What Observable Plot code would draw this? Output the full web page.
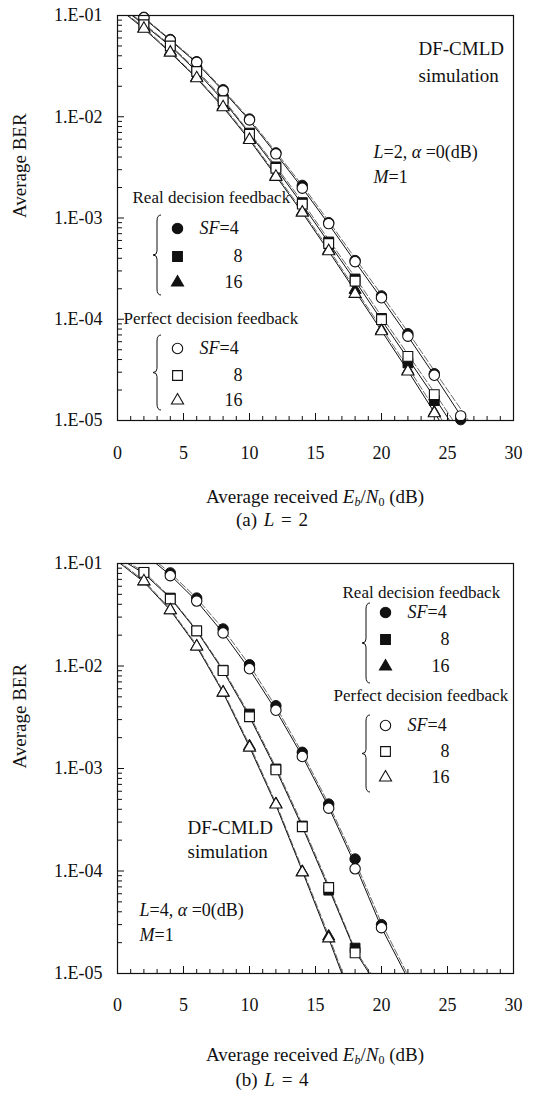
<!DOCTYPE html>
<html><head><meta charset="utf-8">
<script src="https://cdn.jsdelivr.net/npm/d3@7"></script>
<script src="https://cdn.jsdelivr.net/npm/@observablehq/plot@0.6"></script>
<style>
body{margin:0;background:#fff;width:533px;height:1093px;position:relative;overflow:hidden;font-family:"Liberation Serif","Times New Roman",serif;color:#111}
.blk{position:absolute;left:0}
.t{position:absolute;white-space:nowrap;transform:translateX(-50%);font-size:19px;line-height:22px}
sub{font-size:12px;vertical-align:-3px;line-height:0}
</style></head><body>
<div id="top" class="blk" style="top:0"></div>
<div class="t" style="left:315px;top:486px">Average received <i>E</i><sub><i>b</i></sub>/<i>N</i><sub>0</sub> (dB)</div>
<div class="t" style="left:272px;top:509px;word-spacing:2px">(a) <i>L</i> = 2</div>
<div id="bot" class="blk" style="top:548px"></div>
<div class="t" style="left:315px;top:1044px">Average received <i>E</i><sub><i>b</i></sub>/<i>N</i><sub>0</sub> (dB)</div>
<div class="t" style="left:272px;top:1069px;word-spacing:2px">(b) <i>L</i> = 4</div>
<script>
// ---------- axes ----------
const xTicks = [0, 5, 10, 15, 20, 25, 30];
const yTicks = [1e-5, 1e-4, 1e-3, 1e-2, 1e-1];
const yTickLabels = ["1.E-05", "1.E-04", "1.E-03", "1.E-02", "1.E-01"];
const sfLabels = ["*SF*=4", "8", "16"];
const sfSymbols = ["circle", "square", "triangle"];

// ---------- (a) L = 2 : simulation points ----------
const topX = [2, 4, 6, 8, 10, 12, 14, 16, 18, 20, 22, 24, 26];
const topPerfSF4 = [9.5e-2, 5.7e-2, 3.45e-2, 1.8e-2, 9.3e-3, 4.3e-3, 1.97e-3, 8.8e-4, 3.7e-4, 1.63e-4, 6.8e-5, 2.8e-5, 1.11e-5];
const topPerfSF8 = [8.1e-2, 5.0e-2, 2.8e-2, 1.44e-2, 6.7e-3, 3.1e-3, 1.37e-3, 5.6e-4, 2.38e-4, 9.9e-5, 4.3e-5, 1.8e-5];
const topPerfSF16 = [7.4e-2, 4.3e-2, 2.4e-2, 1.24e-2, 5.9e-3, 2.55e-3, 1.13e-3, 4.7e-4, 1.78e-4, 7.6e-5, 3.05e-5, 1.18e-5];
const topRealSF4 = [9.6e-2, 5.8e-2, 3.5e-2, 1.85e-2, 9.5e-3, 4.4e-3, 2.1e-3, 9.0e-4, 3.8e-4, 1.7e-4, 7.2e-5, 2.9e-5, 1.02e-5];
const topRealSF8 = [8.2e-2, 5.1e-2, 2.9e-2, 1.5e-2, 6.9e-3, 3.2e-3, 1.42e-3, 5.8e-4, 2.5e-4, 1.02e-4, 3.7e-5, 1.57e-5];
const topRealSF16 = [7.5e-2, 4.4e-2, 2.45e-2, 1.27e-2, 6.0e-3, 2.6e-3, 1.15e-3, 4.8e-4, 1.95e-4, 7.8e-5, 3.1e-5, 1.2e-5];
// (a) curves
const topCurveX = [0, 2, 4, 6, 8, 10, 12, 14, 16, 18, 20, 22, 24, 26, 28];
const topSolidSF4 = [1.5e-1, 9.4e-2, 5.7e-2, 3.4e-2, 1.8e-2, 9.2e-3, 4.3e-3, 1.98e-3, 8.7e-4, 3.7e-4, 1.6e-4, 6.8e-5, 2.8e-5, 1.12e-5, 4.3e-6];
const topSolidSF8 = [1.3e-1, 8.1e-2, 5.0e-2, 2.8e-2, 1.45e-2, 6.8e-3, 3.1e-3, 1.36e-3, 5.7e-4, 2.4e-4, 9.8e-5, 4.1e-5, 1.7e-5, 6.8e-6, 2.7e-6];
const topSolidSF16 = [1.2e-1, 7.4e-2, 4.3e-2, 2.4e-2, 1.24e-2, 5.9e-3, 2.6e-3, 1.13e-3, 4.7e-4, 1.9e-4, 7.7e-5, 3.1e-5, 1.2e-5, 4.7e-6, 1.8e-6];
const topDashSF4 = [1.55e-1, 9.6e-2, 5.8e-2, 3.5e-2, 1.85e-2, 9.5e-3, 4.5e-3, 2.1e-3, 9.3e-4, 4.0e-4, 1.75e-4, 7.5e-5, 3.1e-5, 1.3e-5, 5.3e-6];
const topDashSF8 = [1.32e-1, 8.3e-2, 5.1e-2, 2.9e-2, 1.5e-2, 7.0e-3, 3.25e-3, 1.45e-3, 6.1e-4, 2.6e-4, 1.07e-4, 4.5e-5, 1.9e-5, 7.7e-6, 3.1e-6];
const topDashSF16 = [1.22e-1, 7.6e-2, 4.4e-2, 2.45e-2, 1.28e-2, 6.1e-3, 2.7e-3, 1.18e-3, 4.95e-4, 2.0e-4, 8.2e-5, 3.35e-5, 1.32e-5, 5.3e-6, 2.1e-6];

// ---------- (b) L = 4 : simulation points ----------
const botX4 = [4, 6, 8, 10, 12, 14, 16, 18, 20];
const botX8 = [2, 4, 6, 8, 10, 12, 14, 16, 18];
const botX16 = [2, 4, 6, 8, 10, 12, 14, 16];
const botPerfSF4 = [7.6e-2, 4.3e-2, 2.1e-2, 9.4e-3, 3.7e-3, 1.31e-3, 4.1e-4, 1.05e-4, 2.8e-5];
const botPerfSF8 = [8.2e-2, 4.5e-2, 2.2e-2, 9.0e-3, 3.2e-3, 9.7e-4, 2.7e-4, 6.9e-5, 1.59e-5];
const botPerfSF16 = [6.7e-2, 3.5e-2, 1.55e-2, 5.5e-3, 1.6e-3, 4.45e-4, 9.7e-5, 2.2e-5];
const botRealSF4 = [8.1e-2, 4.6e-2, 2.3e-2, 1.03e-2, 4.1e-3, 1.44e-3, 4.5e-4, 1.31e-4, 3.0e-5];
const botRealSF8 = [8.2e-2, 4.6e-2, 2.2e-2, 9.1e-3, 3.4e-3, 9.9e-4, 2.75e-4, 6.5e-5, 1.77e-5];
const botRealSF16 = [6.7e-2, 3.5e-2, 1.55e-2, 5.5e-3, 1.65e-3, 4.5e-4, 9.8e-5, 2.3e-5];
// (b) curves
const botCurveX4 = [2, 4, 6, 8, 10, 12, 14, 16, 18, 20, 22];
const botCurveX8 = [0, 2, 4, 6, 8, 10, 12, 14, 16, 18, 20];
const botCurveX16 = [0, 2, 4, 6, 8, 10, 12, 14, 16, 18];
const botSolidSF4 = [1.25e-1, 7.7e-2, 4.3e-2, 2.1e-2, 9.3e-3, 3.7e-3, 1.32e-3, 4.2e-4, 1.15e-4, 2.8e-5, 8.9e-6];
const botSolidSF8 = [1.15e-1, 8.0e-2, 4.6e-2, 2.2e-2, 9.0e-3, 3.2e-3, 9.8e-4, 2.7e-4, 6.8e-5, 1.65e-5, 6.5e-6];
const botSolidSF16 = [1.05e-1, 6.6e-2, 3.5e-2, 1.55e-2, 5.5e-3, 1.62e-3, 4.4e-4, 1.0e-4, 2.2e-5, 4.5e-6];
const botDashSF4 = [1.3e-1, 8.1e-2, 4.6e-2, 2.3e-2, 1.02e-2, 4.0e-3, 1.42e-3, 4.5e-4, 1.25e-4, 3.1e-5, 9.6e-6];
const botDashSF8 = [1.18e-1, 8.3e-2, 4.7e-2, 2.25e-2, 9.3e-3, 3.35e-3, 1.03e-3, 2.85e-4, 7.2e-5, 1.7e-5, 7.0e-6];
const botDashSF16 = [1.08e-1, 6.8e-2, 3.6e-2, 1.6e-2, 5.7e-3, 1.7e-3, 4.6e-4, 1.05e-4, 2.35e-5, 4.8e-6];

// ---------- helpers ----------
const SERIF = "'Liberation Serif','Times New Roman',serif";
const INK = "#111";
const symR = {circle: 5.2, square: 5.5, triangle: 4.5};
const pts = (xs, ys) => ys.map((y, i) => ({x: xs[i], y}));

function makeChart(cfg) {
  const FW = 396, FH = cfg.FH, MT = 15, ML = 117;
  const yMinor = [];
  for (let e = -5; e < -1; e++) for (let m = 2; m <= 9; m++) yMinor.push(m * Math.pow(10, e));
  const xMinor = d3.range(0, 31);
  const at = (px, py) => ({frameAnchor: "top-left", dx: px - ML, dy: py - cfg.top - MT});
  const note = (txt, px, py, o = {}) => Plot.text([txt], {text: d => d, ...at(px, py), lineAnchor: "middle", fontSize: 17, fill: INK, ...o});
  const marks = [
    Plot.tickY(yMinor, {y: d => d, insetRight: FW - 5, stroke: INK}),
    Plot.tickY(yTicks, {y: d => d, insetRight: FW - 7, stroke: INK}),
    Plot.tickX(xMinor, {x: d => d, insetTop: FH - 4, stroke: INK}),
    Plot.tickX(xTicks, {x: d => d, insetTop: FH - 7, stroke: INK}),
    Plot.axisY({ticks: yTicks, tickSize: 0, tickPadding: 15, tickFormat: d => yTickLabels[yTicks.indexOf(d)], label: null, fontSize: 18}),
    Plot.axisX({ticks: xTicks, tickSize: 0, tickPadding: cfg.xPad, label: null, fontSize: 18}),
    Plot.text(["Average BER"], {text: d => d, frameAnchor: "left", dx: -98, rotate: -90, fontSize: 19, fill: INK}),
  ];
  cfg.curves.forEach(c => {
    marks.push(Plot.line(pts(c.x, c.dash), {x: "x", y: "y", stroke: "#444", strokeWidth: 0.8, strokeDasharray: "7,2.5", clip: true}));
    marks.push(Plot.line(pts(c.x, c.solid), {x: "x", y: "y", stroke: INK, strokeWidth: 1, clip: true}));
  });
  cfg.real.forEach((s, i) => marks.push(Plot.dot(pts(s.x, s.y), {x: "x", y: "y", symbol: sfSymbols[i], r: symR[sfSymbols[i]], fill: INK, stroke: INK, strokeWidth: 1})));
  cfg.perf.forEach((s, i) => marks.push(Plot.dot(pts(s.x, s.y), {x: "x", y: "y", symbol: sfSymbols[i], r: symR[sfSymbols[i]], fill: "white", stroke: INK, strokeWidth: 1.1})));
  marks.push(Plot.frame({stroke: INK, strokeWidth: 1.2}));
  // annotations
  const A = cfg.ann;
  marks.push(note("DF-CMLD", A.df[0], A.df[1], {fontSize: 19}));
  marks.push(note("simulation", A.df[0], A.df[1] + A.dfGap, {fontSize: 19}));
  marks.push(note(A.lineL, A.lx, A.ly, {textAnchor: "start", fontSize: 18}));
  marks.push(note("*M*=1", A.lx, A.ly + 25, {textAnchor: "start", fontSize: 18}));
  marks.push(note("Real decision feedback", A.realT[0], A.realT[1], {textAnchor: "start"}));
  marks.push(note("Perfect decision feedback", A.perfT[0], A.perfT[1], {textAnchor: "start"}));
  sfSymbols.forEach((sym, i) => {
    [["real", INK], ["perf", "white"]].forEach(([k, fill]) => {
      const py = A[k + "Y"][i];
      marks.push(Plot.dot([0], {...at(A.mx, py), symbol: sym, r: symR[sym], fill, stroke: INK, strokeWidth: 1.1}));
      if (i === 0) marks.push(note(sfLabels[i], A.sx, py, {textAnchor: "start", fontSize: 18}));
      else marks.push(note(sfLabels[i], A.ex, py, {textAnchor: "end", fontSize: 18}));
    });
  });
  const svg = Plot.plot({
    width: 533, height: MT + FH + 45,
    marginLeft: ML, marginRight: 20, marginTop: MT, marginBottom: 45,
    style: {fontFamily: SERIF, fontSize: "18px", color: INK, background: "transparent", overflow: "visible"},
    x: {domain: [0, 30]},
    y: {type: "log", domain: [1e-5, 1e-1]},
    marks
  });
  // italic runs marked with *...*
  d3.select(svg).selectAll("text").each(function () {
    const t = this.textContent;
    if (!t.includes("*")) return;
    const sel = d3.select(this); sel.text(null);
    t.split("*").forEach((part, j) => { if (part) sel.append("tspan").attr("font-style", j % 2 ? "italic" : null).text(part); });
  });
  // curly braces
  const brace = (x, y0, y1, w = 8) => {
    const ym = (y0 + y1) / 2, h = w / 2;
    return `M${x + w},${y0}Q${x + h},${y0} ${x + h},${y0 + h + 2}L${x + h},${ym - h}Q${x + h},${ym} ${x},${ym}` +
      `Q${x + h},${ym} ${x + h},${ym + h}L${x + h},${y1 - h - 2}Q${x + h},${y1} ${x + w},${y1}`;
  };
  A.braces.forEach(b => d3.select(svg).append("path").attr("d", brace(b[0], b[1] - cfg.top, b[2] - cfg.top)).attr("fill", "none").attr("stroke", INK).attr("stroke-width", 1));
  return svg;
}

document.getElementById("top").append(makeChart({
  top: 0, FH: 405, xPad: 26,
  curves: [
    {x: topCurveX, solid: topSolidSF4, dash: topDashSF4},
    {x: topCurveX, solid: topSolidSF8, dash: topDashSF8},
    {x: topCurveX, solid: topSolidSF16, dash: topDashSF16}],
  real: [{x: topX, y: topRealSF4}, {x: topX, y: topRealSF8}, {x: topX, y: topRealSF16}],
  perf: [{x: topX, y: topPerfSF4}, {x: topX, y: topPerfSF8}, {x: topX, y: topPerfSF16}],
  ann: {df: [418, 48], dfGap: 27, lineL: "*L*=2, *α* =0(dB)", lx: 373, ly: 152,
    realT: [132, 197], perfT: [123, 318], mx: 177, sx: 199, ex: 242,
    realY: [228, 256, 282], perfY: [348, 375, 400],
    braces: [[153, 215, 295], [153, 335, 410]]}
}));

document.getElementById("bot").append(makeChart({
  top: 548, FH: 410, xPad: 25,
  curves: [
    {x: botCurveX4, solid: botSolidSF4, dash: botDashSF4},
    {x: botCurveX8, solid: botSolidSF8, dash: botDashSF8},
    {x: botCurveX16, solid: botSolidSF16, dash: botDashSF16}],
  real: [{x: botX4, y: botRealSF4}, {x: botX8, y: botRealSF8}, {x: botX16, y: botRealSF16}],
  perf: [{x: botX4, y: botPerfSF4}, {x: botX8, y: botPerfSF8}, {x: botX16, y: botPerfSF16}],
  ann: {df: [187, 827], dfGap: 24, lineL: "*L*=4, *α* =0(dB)", lx: 139, ly: 910,
    realT: [342, 592], perfT: [333, 695], mx: 385, sx: 407, ex: 449,
    realY: [612, 639, 666], perfY: [725, 751, 777],
    braces: [[362, 603, 683], [362, 715, 792]]}
}));
</script>
</body></html>
